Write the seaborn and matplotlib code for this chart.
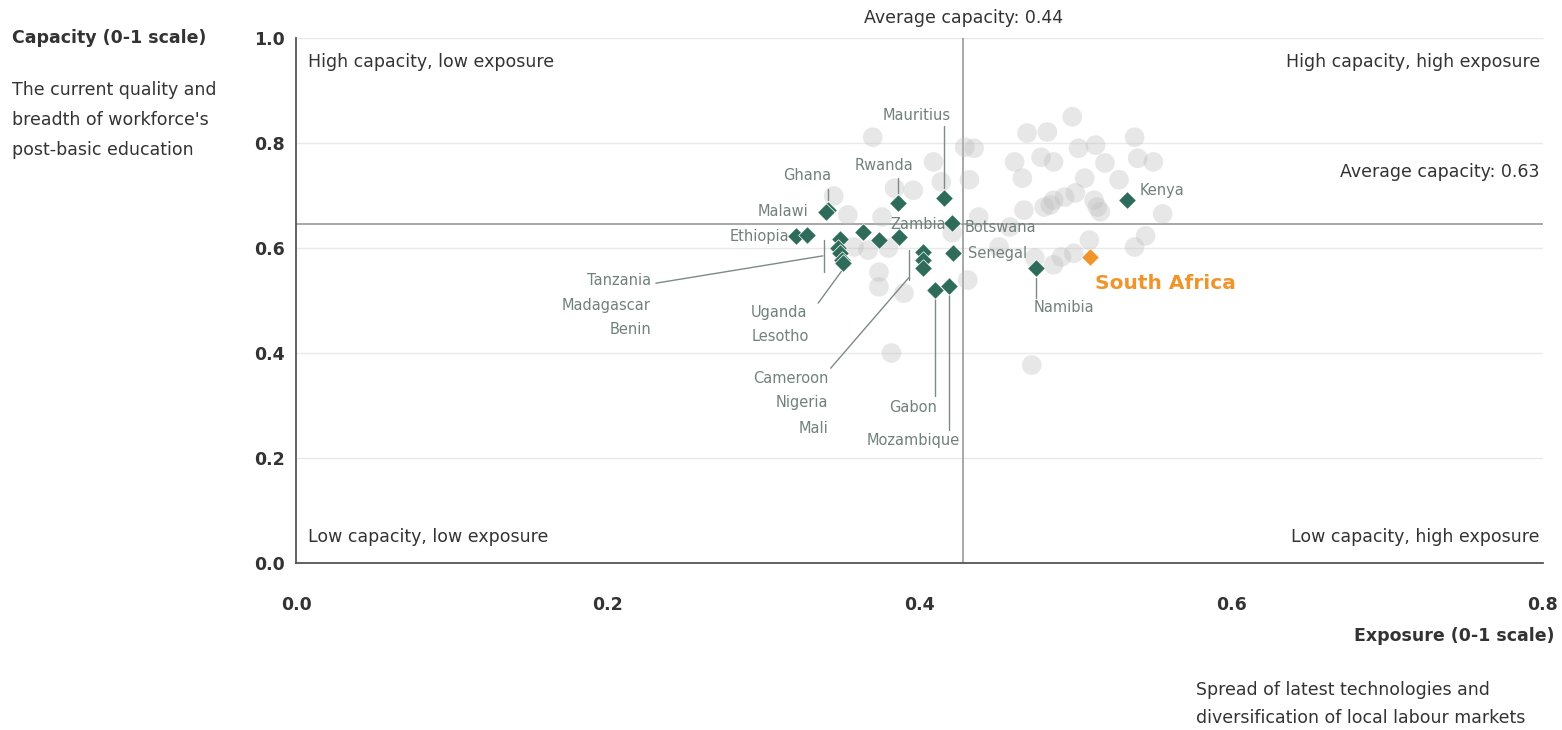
import matplotlib
matplotlib.use("Agg")
import matplotlib.pyplot as plt
import seaborn as sns
import pandas as pd

# ---------------- data ----------------
bg_x = [0.498, 0.469, 0.482, 0.502, 0.513, 0.538, 0.461, 0.478, 0.486, 0.519,
        0.540, 0.550, 0.466, 0.506, 0.486, 0.493, 0.500, 0.480, 0.512, 0.516,
        0.528, 0.467, 0.556, 0.545, 0.538, 0.484, 0.514, 0.491, 0.499, 0.486,
        0.509, 0.472, 0.370, 0.409, 0.429, 0.432, 0.396, 0.384, 0.414, 0.354,
        0.376, 0.345, 0.358, 0.367, 0.380, 0.374, 0.374, 0.390, 0.382, 0.421,
        0.431, 0.438, 0.474, 0.451, 0.435, 0.458]
bg_y = [0.850, 0.819, 0.821, 0.790, 0.796, 0.811, 0.764, 0.773, 0.764, 0.762,
        0.771, 0.764, 0.733, 0.733, 0.691, 0.697, 0.705, 0.678, 0.691, 0.669,
        0.730, 0.672, 0.665, 0.623, 0.602, 0.682, 0.678, 0.583, 0.590, 0.568,
        0.615, 0.377, 0.811, 0.764, 0.792, 0.730, 0.710, 0.714, 0.726, 0.663,
        0.659, 0.699, 0.602, 0.596, 0.600, 0.554, 0.526, 0.514, 0.400, 0.629,
        0.539, 0.659, 0.581, 0.602, 0.790, 0.640]

hl_names = ["Kenya", "Namibia", "Senegal", "Botswana", "Zambia", "Mauritius",
            "Rwanda", "Ghana", "Malawi", "Ethiopia", "", "Tanzania",
            "Madagascar", "Benin", "Uganda", "Lesotho", "", "",
            "Cameroon", "Nigeria", "Mali", "Gabon", "Mozambique"]
hl_x = [0.533, 0.475, 0.4215, 0.421, 0.387, 0.416, 0.386, 0.3415, 0.340, 0.321,
        0.328, 0.349, 0.348, 0.349, 0.350, 0.351, 0.364, 0.374,
        0.402, 0.402, 0.402, 0.410, 0.419]
hl_y = [0.691, 0.561, 0.590, 0.647, 0.621, 0.695, 0.685, 0.673, 0.669, 0.623,
        0.625, 0.618, 0.600, 0.590, 0.578, 0.572, 0.630, 0.615,
        0.593, 0.577, 0.561, 0.520, 0.527]

sa_name = "South Africa"
sa_x = [0.5095]
sa_y = [0.582]

avg_exposure_line = 0.428
avg_capacity_line = 0.646
x_ticks = [0.0, 0.2, 0.4, 0.6, 0.8]
y_ticks = [0.0, 0.2, 0.4, 0.6, 0.8, 1.0]

# ---------------- styles ----------------
GREEN = "#2f6b5b"
ORANGE = "#f0952b"
LABEL = "#71817b"
LEADER = "#7d8a85"
DARK = "#333333"

sns.set_theme(style="white")
plt.rcParams["font.family"] = ["DejaVu Sans"]

fig = plt.figure(figsize=(15.62, 7.30), dpi=100)
ax = fig.add_axes([296 / 1562, 1 - 563 / 730, (1543 - 296) / 1562, (563 - 38) / 730])

ax.set_xlim(0, 0.8)
ax.set_ylim(0, 1.0)

for yt in y_ticks[1:]:
    ax.axhline(yt, color="#e9e9e9", lw=1.0, zorder=0)

bg = pd.DataFrame({"x": bg_x, "y": bg_y})
sns.scatterplot(data=bg, x="x", y="y", ax=ax, s=200, color="#bdbdbd",
                alpha=0.36, edgecolor="none", zorder=2, legend=False)

ax.axvline(avg_exposure_line, color="#909090", lw=1.1, zorder=1)
ax.axhline(avg_capacity_line, color="#909090", lw=1.1, zorder=1)

hl = pd.DataFrame({"name": hl_names, "x": hl_x, "y": hl_y})
sns.scatterplot(data=hl, x="x", y="y", ax=ax, marker="D", s=80, color=GREEN,
                edgecolor="white", linewidth=0.5, zorder=4, legend=False)
sa = pd.DataFrame({"x": sa_x, "y": sa_y})
sns.scatterplot(data=sa, x="x", y="y", ax=ax, marker="D", s=80, color=ORANGE,
                edgecolor="white", linewidth=0.5, zorder=5, legend=False)

ax.set_xlabel("")
ax.set_ylabel("")
ax.set_xticks(x_ticks)
ax.set_yticks(y_ticks)
ax.set_xticklabels([f"{v:.1f}" for v in x_ticks], fontsize=12.5, fontweight="bold", color=DARK)
ax.set_yticklabels([f"{v:.1f}" for v in y_ticks], fontsize=12.5, fontweight="bold", color=DARK)
ax.tick_params(axis="x", length=0, pad=24)
ax.tick_params(axis="y", length=0, pad=8)
for s in ["top", "right"]:
    ax.spines[s].set_visible(False)
for s in ["left", "bottom"]:
    ax.spines[s].set_color("#555555")
    ax.spines[s].set_linewidth(1.3)

# quadrant labels
qkw = dict(fontsize=12.5, color=DARK)
ax.text(0.0077, 0.954, "High capacity, low exposure", ha="left", va="center", **qkw)
ax.text(0.798, 0.954, "High capacity, high exposure", ha="right", va="center", **qkw)
ax.text(0.0077, 0.050, "Low capacity, low exposure", ha="left", va="center", **qkw)
ax.text(0.798, 0.050, "Low capacity, high exposure", ha="right", va="center", **qkw)

ax.text(0.428, 1.038, "Average capacity: 0.44", ha="center", va="center",
        clip_on=False, **qkw)
ax.text(0.798, 0.745, "Average capacity: 0.63", ha="right", va="center", **qkw)

# country labels
lkw = dict(fontsize=10.5, color=LABEL, zorder=6)
labels = [
    ("Mauritius", 0.398, 0.853, "center"),
    ("Rwanda", 0.3775, 0.758, "center"),
    ("Ghana", 0.328, 0.739, "center"),
    ("Malawi", 0.329, 0.670, "right"),
    ("Ethiopia", 0.3165, 0.621, "right"),
    ("Zambia", 0.399, 0.644, "center"),
    ("Botswana", 0.429, 0.640, "left"),
    ("Senegal", 0.431, 0.590, "left"),
    ("Kenya", 0.541, 0.710, "left"),
    ("Namibia", 0.473, 0.486, "left"),
    ("Tanzania", 0.2277, 0.539, "right"),
    ("Madagascar", 0.2277, 0.491, "right"),
    ("Benin", 0.2277, 0.444, "right"),
    ("Uganda", 0.292, 0.478, "left"),
    ("Lesotho", 0.292, 0.432, "left"),
    ("Cameroon", 0.3415, 0.352, "right"),
    ("Nigeria", 0.3415, 0.305, "right"),
    ("Mali", 0.3415, 0.257, "right"),
    ("Gabon", 0.411, 0.297, "right"),
    ("Mozambique", 0.4257, 0.234, "right"),
]
for name, tx, ty, ha in labels:
    ax.text(tx, ty, name, ha=ha, va="center", **lkw)

ax.text(0.5125, 0.533, sa_name, ha="left", va="center", fontsize=14.5,
        fontweight="bold", color=ORANGE, zorder=6)

leaders = [
    [(0.416, 0.832), (0.416, 0.714)],
    [(0.386, 0.733), (0.386, 0.704)],
    [(0.3415, 0.712), (0.3415, 0.692)],
    [(0.475, 0.543), (0.475, 0.505)],
    [(0.2309, 0.533), (0.338, 0.585)],
    [(0.339, 0.615), (0.339, 0.554)],
    [(0.335, 0.495), (0.350, 0.556)],
    [(0.343, 0.371), (0.393, 0.543)],
    [(0.393, 0.596), (0.393, 0.539)],
    [(0.410, 0.503), (0.410, 0.318)],
    [(0.419, 0.510), (0.419, 0.253)],
]
for (x1, y1), (x2, y2) in leaders:
    ax.plot([x1, x2], [y1, y2], color=LEADER, lw=1.0, zorder=3)

# axis titles
fig.text(12 / 1562, 1 - 38 / 730, "Capacity (0-1 scale)", ha="left", va="center",
         fontsize=12.5, fontweight="bold", color=DARK)
for i, line in enumerate(["The current quality and", "breadth of workforce's",
                          "post-basic education"]):
    fig.text(12 / 1562, 1 - (90 + 30 * i) / 730, line, ha="left", va="center",
             fontsize=12.5, color=DARK)
fig.text(1555 / 1562, 1 - 636 / 730, "Exposure (0-1 scale)", ha="right", va="center",
         fontsize=12.5, fontweight="bold", color=DARK)
for i, line in enumerate(["Spread of latest technologies and",
                          "diversification of local labour markets"]):
    fig.text(1196 / 1562, 1 - (690 + 28 * i) / 730, line, ha="left", va="center",
             fontsize=12.5, color=DARK)

fig.savefig("out.png", dpi=100, facecolor="white")
